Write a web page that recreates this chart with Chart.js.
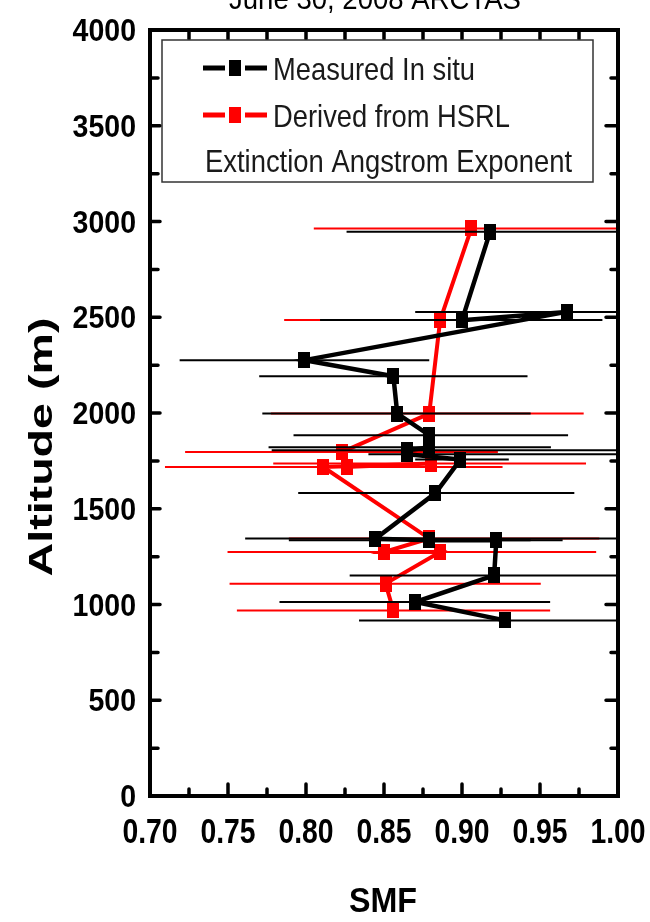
<!DOCTYPE html>
<html>
<head>
<meta charset="utf-8">
<title>SMF profile</title>
<script src="https://cdn.jsdelivr.net/npm/chart.js@4.4.0/dist/chart.umd.min.js"></script>
<style>
  html, body { margin: 0; padding: 0; background: #fff; }
  #wrap { width: 650px; height: 922px; }
</style>
</head>
<body>
<div id="wrap"><canvas id="smfChart" width="650" height="922"></canvas></div>
<script>
// SMF vertical profile, in situ vs HSRL-derived

const xTicks = [0.70, 0.75, 0.80, 0.85, 0.90, 0.95, 1.00];
const xTickLabels = ['0.70', '0.75', '0.80', '0.85', '0.90', '0.95', '1.00'];
const yTicks = [0, 500, 1000, 1500, 2000, 2500, 3000, 3500, 4000];
const yTickLabels = ['0', '500', '1000', '1500', '2000', '2500', '3000', '3500', '4000'];

// Measured in situ
const insituSmf = [0.918, 0.900, 0.967, 0.799, 0.856, 0.8585, 0.879, 0.879, 0.865, 0.865, 0.899, 0.883, 0.8445, 0.879, 0.922, 0.9206, 0.870, 0.9276];
const insituAlt = [2946, 2485, 2528, 2276, 2192, 1997, 1884, 1821, 1805, 1785, 1757, 1582, 1344, 1335, 1335, 1152, 1013, 917];
const insituLo  = [0.826, 0.809, 0.870, 0.719, 0.770, 0.772, 0.792, 0.776, 0.778, 0.840, 0.870, 0.795, 0.761, 0.789, 0.900, 0.828, 0.783, 0.834];
const insituHi  = [1.05, 0.99, 1.05, 0.879, 0.942, 0.944, 0.968, 0.957, 1.05, 1.05, 0.930, 0.972, 1.05, 0.9645, 0.944, 1.05, 0.9565, 1.05];

// Derived from HSRL
const hsrlSmf = [0.906, 0.886, 0.879, 0.823, 0.826, 0.880, 0.811, 0.879, 0.850, 0.886, 0.851, 0.856];
const hsrlAlt = [2964, 2485, 1997, 1796, 1718, 1736, 1718, 1345, 1274, 1274, 1109, 969];
const hsrlLo  = [0.805, 0.786, 0.7775, 0.7225, 0.800, 0.779, 0.7096, 0.789, 0.7497, 0.870, 0.751, 0.7557];
const hsrlHi  = [1.05, 0.985, 0.978, 0.923, 0.850, 0.9795, 0.926, 0.988, 0.986, 0.900, 0.9505, 0.9565];

const FONT = '"Liberation Sans", Arial, sans-serif';

function toPoints(xs, ys) {
    return xs.map((x, i) => ({ x: x, y: ys[i] }));
}

// tall square marker used for both series
function makeMarker(color) {
    const c = document.createElement('canvas');
    c.width = 12;
    c.height = 16;
    const g = c.getContext('2d');
    g.fillStyle = color;
    g.fillRect(0, 0, 12, 16);
    return c;
}

// draw text squeezed/stretched horizontally
function drawText(ctx, text, x, y, font, sx, align) {
    ctx.save();
    ctx.font = font;
    ctx.textAlign = align || 'left';
    ctx.textBaseline = 'alphabetic';
    ctx.translate(x, y);
    ctx.scale(sx, 1);
    ctx.fillText(text, 0, 0);
    ctx.restore();
}

function fitText(ctx, text, x, y, font, width, align) {
    ctx.save();
    ctx.font = font;
    const w = ctx.measureText(text).width;
    ctx.restore();
    drawText(ctx, text, x, y, font, width / w, align);
}

// horizontal error bars, drawn under each series
const errorBars = {
    id: 'errorBars',
    beforeDatasetDraw(chart, args) {
        const ds = chart.data.datasets[args.index];
        if (!ds.errLo) return;
        const ctx = chart.ctx;
        const area = chart.chartArea;
        const xs = chart.scales.x;
        const ys = chart.scales.y;
        ctx.save();
        ctx.beginPath();
        ctx.rect(area.left, area.top, area.right - area.left, area.bottom - area.top);
        ctx.clip();
        ctx.strokeStyle = ds.borderColor;
        ctx.lineWidth = 2;
        ds.data.forEach((p, i) => {
            const y = ys.getPixelForValue(p.y);
            ctx.beginPath();
            ctx.moveTo(xs.getPixelForValue(ds.errLo[i]), y);
            ctx.lineTo(xs.getPixelForValue(ds.errHi[i]), y);
            ctx.stroke();
        });
        ctx.restore();
    }
};

// frame, inward ticks, labels, legend box and titles
const decorations = {
    id: 'decorations',
    afterDraw(chart) {
        const ctx = chart.ctx;
        const a = chart.chartArea;
        const xs = chart.scales.x;
        const ys = chart.scales.y;

        ctx.save();
        ctx.strokeStyle = '#000';
        ctx.lineCap = 'round';
        ctx.lineWidth = 3.5;

        // x ticks, top and bottom
        for (let i = 0; i < xTicks.length; i++) {
            const px = xs.getPixelForValue(xTicks[i]);
            ctx.beginPath();
            ctx.moveTo(px, a.bottom); ctx.lineTo(px, a.bottom - 12);
            ctx.moveTo(px, a.top); ctx.lineTo(px, a.top + 9);
            ctx.stroke();
            if (i < xTicks.length - 1) {
                const pm = xs.getPixelForValue((xTicks[i] + xTicks[i + 1]) / 2);
                ctx.beginPath();
                ctx.moveTo(pm, a.bottom); ctx.lineTo(pm, a.bottom - 7);
                ctx.moveTo(pm, a.top); ctx.lineTo(pm, a.top + 9);
                ctx.stroke();
            }
        }
        // y ticks, left and right
        for (let i = 0; i < yTicks.length; i++) {
            const py = ys.getPixelForValue(yTicks[i]);
            ctx.beginPath();
            ctx.moveTo(a.left, py); ctx.lineTo(a.left + 10, py);
            ctx.moveTo(a.right, py); ctx.lineTo(a.right - 12, py);
            ctx.stroke();
            if (i < yTicks.length - 1) {
                const pm = ys.getPixelForValue((yTicks[i] + yTicks[i + 1]) / 2);
                ctx.beginPath();
                ctx.moveTo(a.left, pm); ctx.lineTo(a.left + 8, pm);
                ctx.moveTo(a.right, pm); ctx.lineTo(a.right - 7, pm);
                ctx.stroke();
            }
        }

        ctx.lineCap = 'butt';
        ctx.lineWidth = 4;
        ctx.strokeRect(a.left, a.top, a.right - a.left, a.bottom - a.top);

        ctx.fillStyle = '#000';
        xTicks.forEach((v, i) => {
            drawText(ctx, xTickLabels[i], xs.getPixelForValue(v), 843, 'bold 35px ' + FONT, 0.81, 'center');
        });
        yTicks.forEach((v, i) => {
            drawText(ctx, yTickLabels[i], 136, ys.getPixelForValue(v) + 11, 'bold 31px ' + FONT, 0.92, 'right');
        });

        // axis titles
        fitText(ctx, 'SMF', 383, 912, 'bold 35px ' + FONT, 68, 'center');
        ctx.save();
        ctx.translate(52, 447);
        ctx.rotate(-Math.PI / 2);
        fitText(ctx, 'Altitude (m)', 0, 0, 'bold 34px ' + FONT, 259, 'center');
        ctx.restore();

        // chart title, partly above the canvas
        fitText(ctx, 'June 30, 2008 ARCTAS', 375, 9, '30px ' + FONT, 292, 'center');

        // legend
        ctx.fillStyle = '#fff';
        ctx.fillRect(162, 40, 431, 142);
        ctx.strokeStyle = '#333';
        ctx.lineWidth = 1.5;
        ctx.strokeRect(162, 40, 431, 142);

        const rows = [
            { label: 'Measured In situ', color: '#000', y: 68, width: 202 },
            { label: 'Derived from HSRL', color: '#ff0000', y: 115, width: 237 }
        ];
        rows.forEach(r => {
            ctx.strokeStyle = r.color;
            ctx.lineWidth = 5;
            ctx.beginPath();
            ctx.moveTo(203, r.y); ctx.lineTo(225, r.y);
            ctx.moveTo(245, r.y); ctx.lineTo(267, r.y);
            ctx.stroke();
            ctx.fillStyle = r.color;
            ctx.fillRect(229, r.y - 8, 12, 16);
            ctx.fillStyle = '#1a1a1a';
            fitText(ctx, r.label, 273, r.y + 12, '32px ' + FONT, r.width, 'left');
        });
        fitText(ctx, 'Extinction Angstrom Exponent', 205, 172, '32px ' + FONT, 367, 'left');

        ctx.restore();
    }
};

const ctx = document.getElementById('smfChart').getContext('2d');
const chart = new Chart(ctx, {
    type: 'scatter',
    data: {
        datasets: [{
            label: 'Measured In situ',
            data: toPoints(insituSmf, insituAlt),
            errLo: insituLo,
            errHi: insituHi,
            showLine: true,
            borderColor: '#000',
            backgroundColor: '#000',
            borderWidth: 4.5,
            pointStyle: makeMarker('#000'),
            pointRadius: 7
        }, {
            label: 'Derived from HSRL',
            data: toPoints(hsrlSmf, hsrlAlt),
            errLo: hsrlLo,
            errHi: hsrlHi,
            showLine: true,
            borderColor: '#ff0000',
            backgroundColor: '#ff0000',
            borderWidth: 4,
            pointStyle: makeMarker('#ff0000'),
            pointRadius: 7
        }]
    },
    options: {
        responsive: false,
        animation: false,
        layout: {
            padding: { left: 150, right: 32, top: 30, bottom: 126 }
        },
        scales: {
            x: { type: 'linear', min: 0.70, max: 1.00, display: false },
            y: { type: 'linear', min: 0, max: 4000, display: false }
        },
        plugins: {
            legend: { display: false },
            tooltip: { enabled: false }
        }
    },
    plugins: [errorBars, decorations]
});
</script>
</body>
</html>
